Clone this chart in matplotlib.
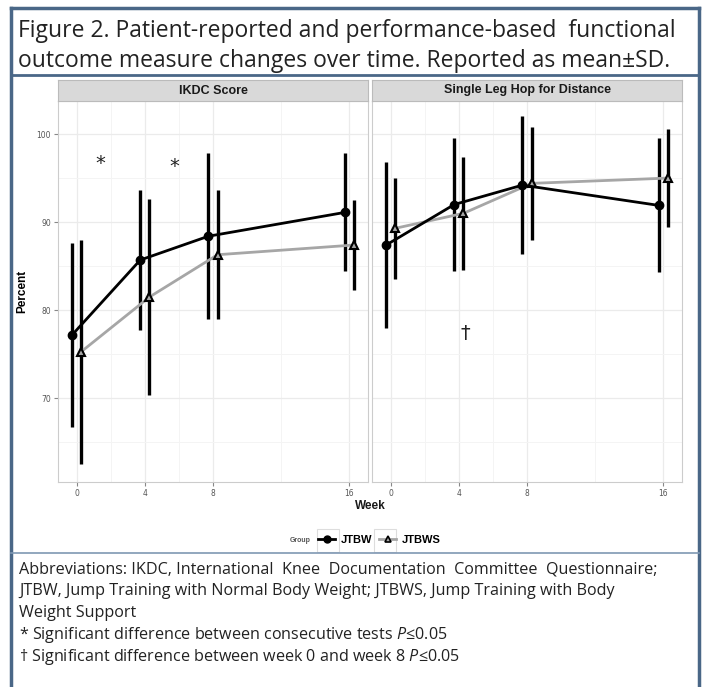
import matplotlib
matplotlib.use('Agg')
import matplotlib.pyplot as plt
from matplotlib.lines import Line2D
from matplotlib.patches import Rectangle
import numpy as np

# data (mean and SD, percent)
weeks = [0, 4, 8, 16]
ikdc_jtbw_mean = [77.2, 85.7, 88.4, 91.1]
ikdc_jtbw_sd = [10.4, 7.9, 9.4, 6.7]
ikdc_jtbws_mean = [75.3, 81.5, 86.3, 87.4]
ikdc_jtbws_sd = [12.7, 11.1, 7.3, 5.1]
hop_jtbw_mean = [87.4, 92.0, 94.2, 91.9]
hop_jtbw_sd = [9.4, 7.6, 7.8, 7.6]
hop_jtbws_mean = [89.3, 91.0, 94.4, 95.0]
hop_jtbws_sd = [5.7, 6.4, 6.4, 5.6]

panel_titles = ['IKDC Score', 'Single Leg Hop for Distance']
group_names = ['JTBW', 'JTBWS']
yticks = [70, 80, 90, 100]

# significance marks (week, percent, symbol)
ikdc_marks = [(1.4, 96.7, '*'), (5.7, 96.3, '*')]
hop_marks = [(4.35, 77.4, '\u2020')]

plt.rcParams['mathtext.fontset'] = 'custom'
plt.rcParams['mathtext.it'] = 'Open Sans:italic'
plt.rcParams['mathtext.rm'] = 'Open Sans'

W, H = 702, 687
fig = plt.figure(figsize=(W / 100, H / 100), dpi=100)
fig.patch.set_facecolor('white')

def fx(px):
    return px / W

def fy(py):
    return 1 - py / H

frame_col = '#4a6787'
# outer frame and separators
fig.add_artist(Line2D([fx(11), fx(11)], [fy(8), 0], color=frame_col, lw=2.5))
fig.add_artist(Line2D([fx(699), fx(699)], [fy(8), 0], color=frame_col, lw=2.5))
fig.add_artist(Line2D([fx(11), fx(699)], [fy(8), fy(8)], color=frame_col, lw=2.5))
fig.add_artist(Line2D([fx(11), fx(699)], [fy(75), fy(75)], color=frame_col, lw=2.0))
fig.add_artist(Line2D([fx(11), fx(699)], [fy(553), fy(553)], color='#7f98b3', lw=1.2))

title_font = ['Open Sans', 'DejaVu Sans']
fig.text(fx(18), fy(31), 'Figure 2. Patient-reported and performance-based  functional',
         fontsize=16.5, family=title_font, va='center', ha='left', color='#222222')
fig.text(fx(18), fy(61), 'outcome measure changes over time. Reported as mean\u00b1SD.',
         fontsize=16.5, family=title_font, va='center', ha='left', color='#222222')

p_left = [58, 372]
p_w = 310
p_top, p_bot = 101, 482
strip_top = 80

dodge = 0.27
series = [
    (ikdc_jtbw_mean, ikdc_jtbw_sd, ikdc_jtbws_mean, ikdc_jtbws_sd, ikdc_marks),
    (hop_jtbw_mean, hop_jtbw_sd, hop_jtbws_mean, hop_jtbws_sd, hop_marks),
]

for i, (m1, s1, m2, s2, marks) in enumerate(series):
    ax = fig.add_axes([fx(p_left[i]), fy(p_bot), p_w / W, (p_bot - p_top) / H])
    sax = fig.add_axes([fx(p_left[i]), fy(p_top), p_w / W, (p_top - strip_top) / H])
    sax.set_facecolor('#d9d9d9')
    sax.set_xticks([])
    sax.set_yticks([])
    for s in sax.spines.values():
        s.set_color('#bbbbbb')
        s.set_linewidth(0.8)
    sax.text(0.5, 0.5, panel_titles[i], ha='center', va='center', fontsize=9,
             fontweight='bold', family='Liberation Sans', color='#1a1a1a',
             transform=sax.transAxes)

    x = np.array(weeks, dtype=float)
    ax.errorbar(x - dodge, m1, yerr=s1, fmt='none', ecolor='black', elinewidth=2.4, zorder=3)
    ax.errorbar(x + dodge, m2, yerr=s2, fmt='none', ecolor='black', elinewidth=2.4, zorder=3)
    ax.plot(x + dodge, m2, color='#a6a6a6', lw=2, zorder=4)
    ax.plot(x + dodge, m2, ls='none', marker='^', ms=6, mfc='#a6a6a6', mec='black', mew=1.5, zorder=5)
    ax.plot(x - dodge, m1, color='black', lw=2, marker='o', ms=6, zorder=6)

    for wx, wy, sym in marks:
        ax.text(wx, wy, sym, ha='center', va='center', fontsize=14, color='#222222')

    ax.set_xlim(-1.1, 17.1)
    ax.set_ylim(60.5, 103.75)
    ax.set_xticks(weeks)
    ax.set_xticks([2, 6, 12], minor=True)
    ax.set_yticks(yticks)
    ax.set_yticks([65, 75, 85, 95], minor=True)
    ax.grid(which='major', color='#ebebeb', lw=0.9)
    ax.grid(which='minor', color='#f4f4f4', lw=0.7)
    ax.set_axisbelow(True)
    ax.tick_params(which='minor', length=0)
    ax.tick_params(which='major', length=3, color='#888888', labelsize=5.5,
                   labelcolor='#555555', pad=2)
    for s in ax.spines.values():
        s.set_color('#cccccc')
        s.set_linewidth(0.8)
    if i == 0:
        ax.set_ylabel('Percent', fontsize=8.5, fontweight='bold', family='Liberation Sans',
                      labelpad=6)
    else:
        ax.tick_params(axis='y', labelleft=False, length=0)

fig.text(fx(370), fy(506), 'Week', ha='center', va='center', fontsize=8.5,
         fontweight='bold', family='Liberation Sans', color='#1a1a1a')

# legend: keys in light boxes, title on the left
handles = [
    Line2D([], [], color='black', lw=2, marker='o', ms=5),
    Line2D([], [], color='#a6a6a6', lw=2, marker='^', ms=5, mfc='#a6a6a6', mec='black', mew=1.2),
]
leg = fig.legend(handles, group_names, loc='center', bbox_to_anchor=(fx(379), fy(540)),
                 ncol=2, frameon=False, prop={'family': 'Liberation Sans', 'weight': 'bold', 'size': 8},
                 handlelength=1.6, handletextpad=0.45, columnspacing=0.6)
fig.text(fx(311), fy(541), 'Group', fontsize=5, fontweight='bold', color='#555555',
         ha='right', va='center', family='Liberation Sans')
for kx in (317, 374):
    fig.add_artist(Rectangle((fx(kx), fy(552)), 22 / W, 23 / H, fill=False,
                             ec='#dddddd', lw=0.8))

note_font = ['Open Sans', 'DejaVu Sans']
notes = [
    'Abbreviations: IKDC, International  Knee  Documentation  Committee  Questionnaire;',
    'JTBW, Jump Training with Normal Body Weight; JTBWS, Jump Training with Body',
    'Weight Support',
]
for k, line in enumerate(notes):
    fig.text(fx(19), fy(569 + 22 * k), line, fontsize=11.6, family=note_font,
             va='center', ha='left', color='#222222')
fig.text(fx(19), fy(635), '* Significant difference between consecutive tests $\\it{P}$\u22640.05',
         fontsize=11.6, family=note_font, va='center', ha='left', color='#222222')
fig.text(fx(19), fy(657), '\u2020 Significant difference between week 0 and week 8 $\\it{P}$\u22640.05',
         fontsize=11.6, family=note_font, va='center', ha='left', color='#222222')

fig.savefig('out.png', dpi=100)
